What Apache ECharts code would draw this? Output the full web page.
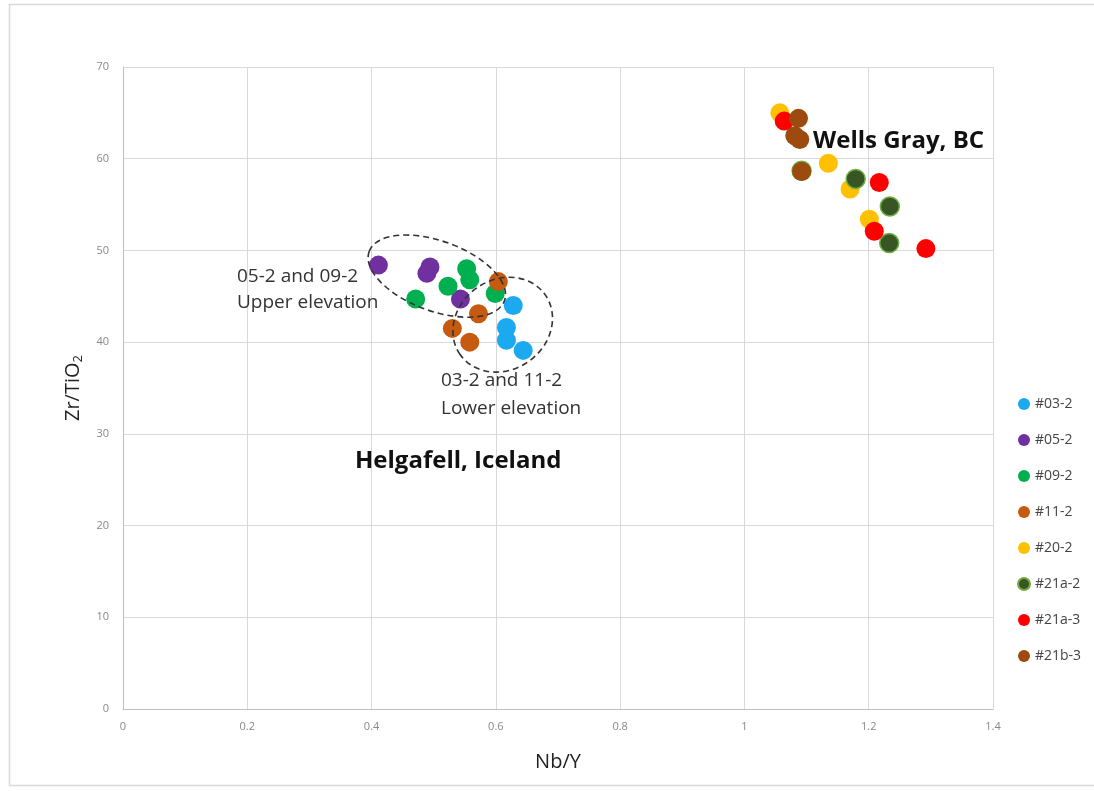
<!DOCTYPE html>
<html>
<head>
<meta charset="utf-8">
<script src="https://cdn.jsdelivr.net/npm/echarts@6/dist/echarts.min.js"></script>
<style>html,body{margin:0;padding:0;background:#fff;}#c{width:1094px;height:791px;}</style>
</head>
<body>
<div id="c"></div>
<script>
// ---- data ----
const seriesNames = ['#03-2', '#05-2', '#09-2', '#11-2', '#20-2', '#21a-2', '#21a-3', '#21b-3'];
const s03_2 = [[0.628, 44.0], [0.617, 41.6], [0.617, 40.2], [0.644, 39.1]];
const s05_2 = [[0.411, 48.4], [0.494, 48.2], [0.489, 47.5], [0.543, 44.7]];
const s09_2 = [[0.553, 48.0], [0.558, 46.8], [0.523, 46.1], [0.471, 44.7], [0.599, 45.3]];
const s11_2 = [[0.604, 46.6], [0.572, 43.1], [0.530, 41.5], [0.558, 40.0]];
const s20_2 = [[1.057, 65.0], [1.135, 59.5], [1.170, 56.7], [1.201, 53.4]];
const s21a_2 = [[1.092, 58.7], [1.179, 57.8], [1.234, 54.8], [1.233, 50.8]];
const s21a_3 = [[1.064, 64.1], [1.217, 57.4], [1.209, 52.1], [1.292, 50.2]];
const s21b_3 = [[1.087, 64.4], [1.081, 62.5], [1.089, 62.1], [1.092, 58.6]];
const seriesData = [s03_2, s05_2, s09_2, s11_2, s20_2, s21a_2, s21a_3, s21b_3];
const xTicks = [0, 0.2, 0.4, 0.6, 0.8, 1, 1.2, 1.4];
const yTicks = [0, 10, 20, 30, 40, 50, 60, 70];

// ---- styles ----
const colors = ['#1ba9ef', '#7030a0', '#00b050', '#c55a11', '#ffc000', '#375623', '#ff0000', '#9c4a0e'];
const FONT = 'Open Sans';

const chart = echarts.init(document.getElementById('c'), null, {renderer: 'canvas'});

const series = seriesNames.map((n, i) => ({
  name: n,
  type: 'scatter',
  data: seriesData[i],
  symbol: 'circle',
  symbolSize: 19,
  itemStyle: n === '#21a-2'
    ? {color: colors[i], borderColor: '#70ad47', borderWidth: 1.5, opacity: 1}
    : {color: colors[i], opacity: 1},
  emphasis: {disabled: true}
}));

chart.setOption({
  animation: false,
  backgroundColor: '#fff',
  grid: {left: 123, right: 101, top: 67, bottom: 82, containLabel: false},
  xAxis: {
    type: 'value', min: 0, max: 1.4, interval: 0.2,
    name: 'Nb/Y', nameLocation: 'middle', nameGap: 43,
    nameTextStyle: {fontFamily: FONT, fontSize: 20, color: '#222'},
    axisLine: {show: true, lineStyle: {color: '#bfbfbf', width: 1}},
    axisTick: {show: false},
    splitLine: {show: true, lineStyle: {color: '#d9d9d9', width: 1}},
    axisLabel: {fontFamily: FONT, fontSize: 11, color: '#888', margin: 12,
      formatter: v => { const t = xTicks.find(x => Math.abs(x - v) < 1e-9); return t === undefined ? '' : String(t); }}
  },
  yAxis: {
    type: 'value', min: 0, max: 70, interval: 10,
    name: '{n|Zr/TiO}{s|2}', nameLocation: 'middle', nameGap: 38, nameRotate: 90,
    nameTextStyle: {fontFamily: FONT, fontSize: 20, color: '#222',
      rich: {
        n: {fontFamily: FONT, fontSize: 20, color: '#222'},
        s: {fontFamily: FONT, fontSize: 13, color: '#222', padding: [10, 0, 0, 0]}
      }},
    axisLine: {show: true, lineStyle: {color: '#bfbfbf', width: 1}},
    axisTick: {show: false},
    splitLine: {show: true, lineStyle: {color: '#d9d9d9', width: 1}},
    axisLabel: {fontFamily: FONT, fontSize: 11, color: '#888', margin: 14,
      formatter: v => { const t = yTicks.find(x => Math.abs(x - v) < 1e-9); return t === undefined ? '' : String(t); }}
  },
  legend: {
    orient: 'vertical', left: 1012, top: 392,
    itemWidth: 12, itemHeight: 12, itemGap: 22,
    icon: 'circle',
    textStyle: {fontFamily: FONT, fontSize: 14, color: '#444'},
    data: seriesNames
  },
  series: series
});

function px(x, y) { return chart.convertToPixel({gridIndex: 0}, [x, y]); }

const uC = px(0.505, 47.2);
const lC = px(0.611, 41.9);
const textStyleN = {fontFamily: FONT, fontSize: 19, fill: '#333', verticalAlign: 'middle'};
const textStyleB = {fontFamily: FONT, fontSize: 24, fontWeight: 'bold', fill: '#111', verticalAlign: 'middle'};

chart.setOption({
  graphic: [
    {type: 'rect', shape: {x: 9.5, y: 4.5, width: 1200, height: 781}, style: {fill: 'none', stroke: '#d9d9d9', lineWidth: 1.5}, z: 0, silent: true},
    {type: 'ellipse', x: uC[0], y: uC[1], rotation: -20 * Math.PI / 180, shape: {cx: 0, cy: 0, rx: 72, ry: 35},
      style: {fill: 'none', stroke: '#333', lineWidth: 1.6, lineDash: [6, 4]}, z: 100, silent: true},
    {type: 'ellipse', x: lC[0], y: lC[1], rotation: 35 * Math.PI / 180, shape: {cx: 0, cy: 0, rx: 52, ry: 45},
      style: {fill: 'none', stroke: '#333', lineWidth: 1.6, lineDash: [6, 4]}, z: 100, silent: true},
    {type: 'text', x: 237, y: 277, style: Object.assign({text: '05-2 and 09-2'}, textStyleN), z: 100, silent: true},
    {type: 'text', x: 237, y: 303, style: Object.assign({text: 'Upper elevation'}, textStyleN), z: 100, silent: true},
    {type: 'text', x: 441, y: 381, style: Object.assign({text: '03-2 and 11-2'}, textStyleN), z: 100, silent: true},
    {type: 'text', x: 441, y: 409, style: Object.assign({text: 'Lower elevation'}, textStyleN), z: 100, silent: true},
    {type: 'text', x: 355, y: 461, style: Object.assign({text: 'Helgafell, Iceland'}, textStyleB), z: 100, silent: true},
    {type: 'text', x: 813, y: 141, style: Object.assign({text: 'Wells Gray, BC'}, textStyleB), z: 100, silent: true}
  ]
});
</script>
</body>
</html>
